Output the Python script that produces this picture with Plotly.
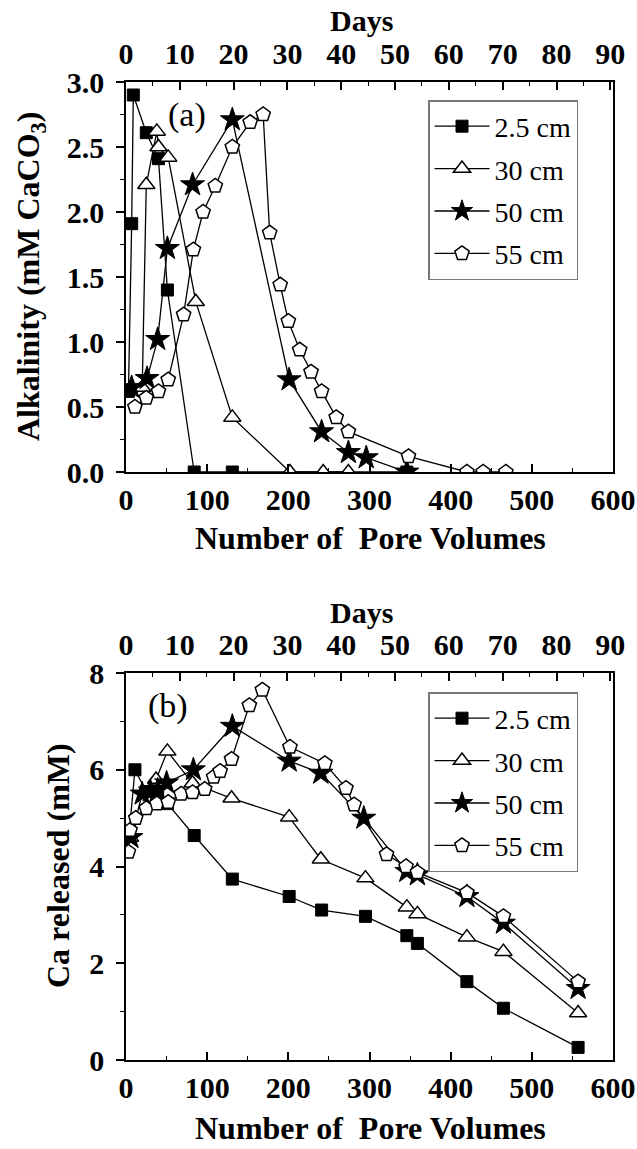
import plotly.graph_objects as go

# ---------------- data ----------------
series_names = ["2.5 cm", "30 cm", "50 cm", "55 cm"]

# Panel (a): alkalinity vs pore volumes
pv_a_25 = [3, 7, 9, 25, 40, 51, 84, 131, 346]
alk_25 = [0.62, 1.91, 2.90, 2.61, 2.41, 1.40, 0.0, 0.0, 0.0]

pv_a_30 = [20, 25, 38, 40, 52, 86, 131, 202, 243, 274]
alk_30 = [0.65, 2.21, 2.62, 2.50, 2.42, 1.31, 0.42, 0.0, 0.0, 0.0]

pv_a_50 = [7, 26, 39, 51, 82, 131, 201, 241, 274, 296, 346]
alk_50 = [0.65, 0.72, 1.02, 1.72, 2.21, 2.71, 0.71, 0.31, 0.15, 0.11, 0.0]

pv_a_55 = [11, 25, 40, 52, 71, 83, 95, 110, 131, 153, 169, 177, 190, 200,
           214, 228, 241, 259, 274, 348, 420, 440, 468]
alk_55 = [0.50, 0.57, 0.62, 0.71, 1.21, 1.71, 2.00, 2.20, 2.50, 2.69, 2.75, 1.84,
          1.44, 1.16, 0.94, 0.77, 0.62, 0.42, 0.31, 0.12, 0.0, 0.0, 0.0]

# Panel (b): Ca released vs pore volumes
pv_b_25 = [4, 11, 25, 39, 51, 84, 131, 201, 241, 295, 346, 359, 420, 465, 557]
ca_25 = [4.70, 6.00, 5.55, 5.55, 5.30, 4.64, 3.74, 3.38, 3.10, 2.97, 2.57, 2.41,
         1.62, 1.07, 0.26]

pv_b_30 = [5, 37, 51, 82, 130, 201, 240, 295, 346, 359, 420, 465, 557]
ca_30 = [4.60, 5.80, 6.38, 5.72, 5.41, 5.02, 4.15, 3.76, 3.16, 3.02, 2.54, 2.24, 0.97]

pv_b_50 = [6, 20, 30, 39, 50, 83, 131, 201, 240, 293, 346, 359, 420, 465, 557]
ca_50 = [4.60, 5.50, 5.56, 5.58, 5.73, 6.00, 6.90, 6.18, 5.93, 5.00, 3.90, 3.83,
         3.38, 2.83, 1.48]

pv_b_55 = [3, 5, 12, 25, 38, 52, 68, 82, 97, 108, 116, 130, 152, 168, 202, 245,
           271, 281, 321, 345, 359, 420, 465, 557]
ca_55 = [4.30, 4.75, 5.00, 5.20, 5.30, 5.33, 5.50, 5.53, 5.60, 5.85, 5.97, 6.22,
         7.33, 7.65, 6.47, 6.13, 5.62, 5.28, 4.25, 4.00, 3.88, 3.46, 2.97, 1.62]

x_ticks = [0, 100, 200, 300, 400, 500, 600]
day_ticks = [0, 10, 20, 30, 40, 50, 60, 70, 80, 90]

# ---------------- layout helpers ----------------
W, H = 637, 1149
def fx(x):
    return x / W
def fy(y):
    return 1 - y / H

XL, XR = 126, 613
A_TOP, A_BOT = 82, 472
B_TOP, B_BOT = 673, 1060

FONT = "Liberation Serif, Times New Roman, serif"
tickfont = dict(family=FONT, size=30, color="black", weight="bold")

marker_styles = {
    "2.5 cm": dict(symbol="square", size=12, color="black",
                   line=dict(color="black", width=1)),
    "30 cm": dict(symbol="triangle-up", size=15, color="white",
                  line=dict(color="black", width=1.5)),
    "50 cm": dict(symbol="star", size=18, color="black",
                  line=dict(color="black", width=1)),
    "55 cm": dict(symbol="pentagon", size=15, color="white",
                  line=dict(color="black", width=1.5)),
}

fig = go.Figure()

panel_a = [(pv_a_25, alk_25), (pv_a_30, alk_30), (pv_a_50, alk_50), (pv_a_55, alk_55)]
panel_b = [(pv_b_25, ca_25), (pv_b_30, ca_30), (pv_b_50, ca_50), (pv_b_55, ca_55)]

for name, (xs, ys) in zip(series_names, panel_a):
    fig.add_trace(go.Scatter(
        x=xs, y=ys, name=name, mode="lines+markers",
        line=dict(color="black", width=1.3),
        marker=marker_styles[name],
        xaxis="x", yaxis="y", legend="legend",
        legendgroup="a" + name,
    ))

for name, (xs, ys) in zip(series_names, panel_b):
    fig.add_trace(go.Scatter(
        x=xs, y=ys, name=name, mode="lines+markers",
        line=dict(color="black", width=1.3),
        marker=marker_styles[name],
        xaxis="x3", yaxis="y3", legend="legend2",
        legendgroup="b" + name,
    ))

# empty carriers so that the top "Days" axes get drawn
for xa, ya in (("x2", "y"), ("x4", "y3")):
    fig.add_trace(go.Scatter(
        x=day_ticks, y=[None] * len(day_ticks), mode="markers",
        xaxis=xa, yaxis=ya, showlegend=False, hoverinfo="skip",
    ))

common_x = dict(
    showline=True, linecolor="black", linewidth=1.5,
    showgrid=False, zeroline=False, automargin=False,
    ticks="inside", ticklen=8, tickwidth=1.5, tickcolor="black",
    tickfont=tickfont,
)
common_y = dict(
    showline=True, linecolor="black", linewidth=1.5, mirror=True,
    showgrid=False, zeroline=False, automargin=False,
    ticks="outside", ticklen=8, tickwidth=1.5, tickcolor="black",
    tickfont=tickfont, ticklabelstandoff=6,
)

legend_common = dict(
    xanchor="left", yanchor="top",
    bordercolor="#777", borderwidth=1.5, bgcolor="white",
    font=dict(family=FONT, size=28, color="black"),
    itemwidth=55, tracegroupgap=3,
)

fig.update_layout(
    template="none",
    width=W, height=H,
    margin=dict(l=0, r=0, t=0, b=0, pad=0),
    paper_bgcolor="white", plot_bgcolor="white",
    font=dict(family=FONT, color="black"),
    # panel (a)
    xaxis=dict(domain=[fx(XL), fx(XR)], anchor="y", range=[0, 600],
               tickvals=x_ticks,
               minor=dict(ticks="inside", dtick=50, ticklen=4, tickwidth=1.2, tickcolor="black"),
               **common_x),
    xaxis2=dict(overlaying="x", anchor="y", side="top", range=[0, 90.5],
                tickvals=day_ticks, ticklabelstandoff=4,
                minor=dict(ticks="inside", dtick=5, ticklen=4, tickwidth=1.2, tickcolor="black"),
                **common_x),
    yaxis=dict(domain=[fy(A_BOT), fy(A_TOP)], anchor="x", range=[0, 3],
               dtick=0.5, tickformat=".1f",
               minor=dict(ticks="outside", dtick=0.25, ticklen=4, tickwidth=1.2, tickcolor="black"),
               **common_y),
    # panel (b)
    xaxis3=dict(domain=[fx(XL), fx(XR)], anchor="y3", range=[0, 600],
                tickvals=x_ticks,
                minor=dict(ticks="inside", dtick=50, ticklen=4, tickwidth=1.2, tickcolor="black"),
                **common_x),
    xaxis4=dict(overlaying="x3", anchor="y3", side="top", range=[0, 90.5],
                tickvals=day_ticks, ticklabelstandoff=4,
                minor=dict(ticks="inside", dtick=5, ticklen=4, tickwidth=1.2, tickcolor="black"),
                **common_x),
    yaxis3=dict(domain=[fy(B_BOT), fy(B_TOP)], anchor="x3", range=[0, 8],
                dtick=2,
                minor=dict(ticks="outside", dtick=1, ticklen=4, tickwidth=1.2, tickcolor="black"),
                **common_y),
    legend=dict(x=fx(428), y=fy(100), **legend_common),
    legend2=dict(x=fx(428), y=fy(692), **legend_common),
    showlegend=True,
)

title_font = dict(family=FONT, size=32, color="black", weight="bold")
days_font = dict(family=FONT, size=30, color="black", weight="bold")

annotations = [
    dict(text="(a)", x=fx(187), y=fy(115), font=dict(family=FONT, size=34, color="black")),
    dict(text="(b)", x=fx(168), y=fy(706), font=dict(family=FONT, size=34, color="black")),
    dict(text="Days", x=fx(362), y=fy(20), font=days_font),
    dict(text="Days", x=fx(362), y=fy(612), font=days_font),
    dict(text="Number of  Pore Volumes", x=fx(370), y=fy(538), font=title_font),
    dict(text="Number of  Pore Volumes", x=fx(370), y=fy(1128), font=title_font),
    dict(text="Alkalinity (mM CaCO<sub>3</sub>)", x=fx(30), y=fy(277),
         textangle=-90, font=title_font),
    dict(text="Ca released (mM)", x=fx(58), y=fy(866),
         textangle=-90, font=title_font),
]
for a in annotations:
    a.update(xref="paper", yref="paper", showarrow=False,
             xanchor="center", yanchor="middle")
fig.update_layout(annotations=annotations)

fig.write_html("out.html")
